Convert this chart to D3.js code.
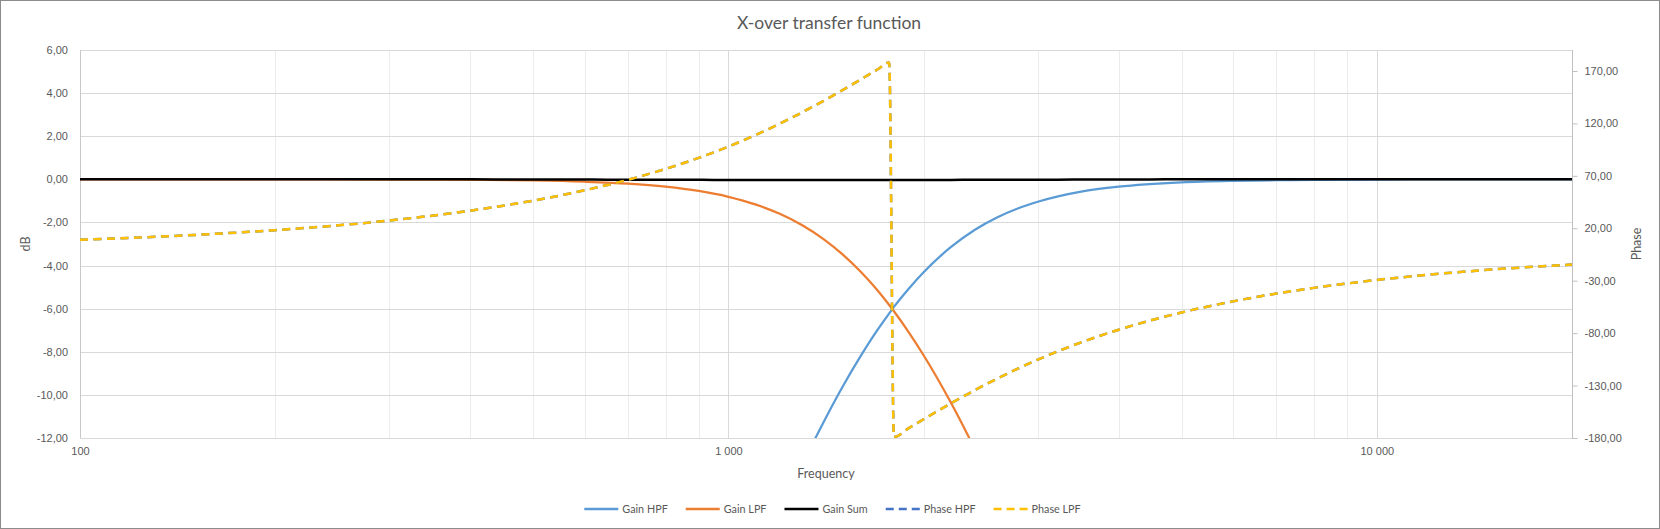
<!DOCTYPE html>
<html>
<head>
<meta charset="utf-8">
<script src="https://cdn.jsdelivr.net/npm/d3@7"></script>
<style>
  body { margin: 0; background: #fff; }
  svg { display: block; font-family: Lato, "Open Sans", sans-serif; }
</style>
</head>
<body>
<svg width="1660" height="529"></svg>
<script>
// values
const freq = [100, 150, 200, 300, 400, 500, 600, 700, 800, 900, 1000, 1100, 1200, 1300, 1400,
  1500, 1600, 1700, 1770, 1800, 1900, 2000, 2200, 2400, 2600, 2800, 3000, 3500, 4000, 5000,
  6000, 7000, 8000, 10000, 12000, 15000, 20000];

const gainHPF = [-100.23, -86.14, -76.15, -62.06, -52.08, -44.36, -38.09, -32.82, -28.32, -24.43,
  -21.04, -18.07, -15.49, -13.24, -11.30, -9.62, -8.19, -6.96, -6.22, -5.92, -5.05, -4.31, -3.16,
  -2.34, -1.76, -1.34, -1.04, -0.57, -0.34, -0.14, -0.07, -0.04, -0.02, -0.01, 0.00, 0.00, 0.00];

const gainLPF = [0.00, 0.00, 0.00, -0.01, -0.02, -0.05, -0.11, -0.20, -0.34, -0.54, -0.81, -1.16,
  -1.60, -2.13, -2.76, -3.48, -4.29, -5.17, -5.83, -6.12, -7.12, -8.16, -10.32, -12.53, -14.73,
  -16.89, -18.98, -23.87, -28.28, -35.83, -42.09, -47.42, -52.04, -59.78, -66.11, -73.86, -83.85];

const gainSum = [0, 0, 0, 0, 0, -0.01, -0.01, -0.02, -0.02, -0.02, -0.03, -0.03, -0.03, -0.03,
  -0.03, -0.03, -0.03, -0.03, -0.03, -0.03, -0.03, -0.03, -0.03, -0.02, -0.02, -0.02, -0.02,
  -0.01, -0.01, 0, 0, 0, 0, 0, 0, 0, 0];

const phaseLPF = [9.06, 13.61, 18.18, 27.41, 36.79, 46.38, 56.21, 66.28, 76.60, 87.16, 97.90,
  108.78, 119.72, 130.58, 141.31, 151.79, 161.93, 171.65, 178.18, -179.10, -170.35, -162.13,
  -147.26, -134.37, -123.24, -113.62, -105.30, -88.81, -76.72, -60.28, -49.70, -42.29, -36.84,
  -29.31, -24.35, -19.43, -14.54];

// Phase HPF lies exactly under Phase LPF in the picture
const phaseHPF = [9.06, 13.61, 18.18, 27.41, 36.79, 46.38, 56.21, 66.28, 76.60, 87.16, 97.90,
  108.78, 119.72, 130.58, 141.31, 151.79, 161.93, 171.65, 178.18, -179.10, -170.35, -162.13,
  -147.26, -134.37, -123.24, -113.62, -105.30, -88.81, -76.72, -60.28, -49.70, -42.29, -36.84,
  -29.31, -24.35, -19.43, -14.54];

const seriesNames = ['Gain HPF', 'Gain LPF', 'Gain Sum', 'Phase HPF', 'Phase LPF'];
const dbTicks = [-12, -10, -8, -6, -4, -2, 0, 2, 4, 6];
const phaseTicks = [-180, -130, -80, -30, 20, 70, 120, 170];
const freqTicks = [100, 1000, 10000];
const freqMinor = [200, 300, 400, 500, 600, 700, 800, 900, 2000, 3000, 4000, 5000, 6000, 7000, 8000, 9000];

const width = 1660;
const height = 529;
const plot = { x0: 80, x1: 1572, y0: 50, y1: 438 };
const textColor = '#595959';

const locale = d3.formatLocale({ decimal: ',', thousands: ' ', grouping: [3], currency: ['', ''], minus: '-' });
const fmt2 = locale.format('.2f');
const fmtInt = locale.format(',d');

const svg = d3.select('svg');

const x = d3.scaleLog().domain([100, 20000]).range([plot.x0, plot.x1]);
const yLeft = d3.scaleLinear().domain([-12, 6]).range([plot.y1, plot.y0]);
const yRight = d3.scaleLinear().domain([-180, 190]).range([plot.y1, plot.y0]);

// chart frame
svg.append('rect')
  .attr('x', 0.5).attr('y', 0.5)
  .attr('width', width - 1).attr('height', height - 1)
  .attr('fill', '#fff').attr('stroke', '#8c8c8c');

// gridlines
const grid = svg.append('g').attr('shape-rendering', 'crispEdges');
grid.selectAll('.minor').data(freqMinor).join('line')
  .attr('x1', d => Math.round(x(d)) + 0.5).attr('x2', d => Math.round(x(d)) + 0.5)
  .attr('y1', plot.y0).attr('y2', plot.y1)
  .attr('stroke', '#ececec');
grid.selectAll('.major').data(freqTicks.slice(1)).join('line')
  .attr('x1', d => Math.round(x(d)) + 0.5).attr('x2', d => Math.round(x(d)) + 0.5)
  .attr('y1', plot.y0).attr('y2', plot.y1)
  .attr('stroke', '#d9d9d9');
grid.selectAll('.hgrid').data(dbTicks).join('line')
  .attr('x1', plot.x0).attr('x2', plot.x1)
  .attr('y1', d => Math.round(yLeft(d)) + 0.5).attr('y2', d => Math.round(yLeft(d)) + 0.5)
  .attr('stroke', '#d9d9d9');

// axis lines
grid.append('line')
  .attr('x1', plot.x0 + 0.5).attr('x2', plot.x0 + 0.5)
  .attr('y1', plot.y0).attr('y2', plot.y1)
  .attr('stroke', '#c8c8c8');
grid.append('line')
  .attr('x1', plot.x1 + 0.5).attr('x2', plot.x1 + 0.5)
  .attr('y1', plot.y0).attr('y2', plot.y1 + 0.5)
  .attr('stroke', '#bfbfbf');

// axes
const styleAxis = (g, size) => {
  g.select('.domain').remove();
  g.selectAll('text').attr('fill', textColor).attr('font-size', size);
  g.selectAll('line').attr('stroke', '#bfbfbf');
};

svg.append('g')
  .attr('transform', `translate(${plot.x0},0)`)
  .call(d3.axisLeft(yLeft).tickValues(dbTicks).tickSize(0).tickPadding(12).tickFormat(fmt2))
  .call(g => styleAxis(g, 11));

svg.append('g')
  .attr('transform', `translate(${plot.x1 + 0.5},0)`)
  .call(d3.axisRight(yRight).tickValues(phaseTicks).tickSize(5).tickPadding(7).tickFormat(fmt2))
  .call(g => styleAxis(g, 11));

svg.append('g')
  .attr('transform', `translate(0,${plot.y1})`)
  .call(d3.axisBottom(x).tickValues(freqTicks).tickSize(0).tickPadding(9).tickFormat(fmtInt))
  .call(g => styleAxis(g, 11));

// titles
svg.append('text')
  .attr('x', 829).attr('y', 23).attr('dy', '0.35em')
  .attr('text-anchor', 'middle').attr('fill', textColor).attr('font-size', 17.5)
  .text('X-over transfer function');

svg.append('text')
  .attr('x', (plot.x0 + plot.x1) / 2).attr('y', 474).attr('dy', '0.35em')
  .attr('text-anchor', 'middle').attr('fill', textColor).attr('font-size', 12.5)
  .text('Frequency');

svg.append('text')
  .attr('transform', 'translate(26,244) rotate(-90)').attr('dy', '0.35em')
  .attr('text-anchor', 'middle').attr('fill', textColor).attr('font-size', 12.5)
  .text('dB');

svg.append('text')
  .attr('transform', 'translate(1637,244) rotate(-90)').attr('dy', '0.35em')
  .attr('text-anchor', 'middle').attr('fill', textColor).attr('font-size', 12.5)
  .text('Phase');

// series
const series = [
  { name: seriesNames[0], values: gainHPF, y: yLeft, color: '#5b9bd5', dash: null, lw: 2.25 },
  { name: seriesNames[1], values: gainLPF, y: yLeft, color: '#ed7d31', dash: null, lw: 2.25 },
  { name: seriesNames[2], values: gainSum, y: yLeft, color: '#000000', dash: null, lw: 2.5 },
  { name: seriesNames[3], values: phaseHPF, y: yRight, color: '#4472c4', dash: '8,5.5', lw: 2.5 },
  { name: seriesNames[4], values: phaseLPF, y: yRight, color: '#ffc000', dash: '8,5.5', lw: 2.5 }
];

svg.append('clipPath').attr('id', 'plot-clip')
  .append('rect')
  .attr('x', plot.x0).attr('y', plot.y0)
  .attr('width', plot.x1 - plot.x0).attr('height', plot.y1 - plot.y0);

const lines = svg.append('g').attr('clip-path', 'url(#plot-clip)');

series.forEach((s) => {
  const line = d3.line()
    .x((d, i) => x(freq[i]))
    .y(d => s.y(d))
    .curve(d3.curveMonotoneX);
  lines.append('path')
    .datum(s.values)
    .attr('d', line)
    .attr('fill', 'none')
    .attr('stroke', s.color)
    .attr('stroke-width', s.lw)
    .attr('stroke-dasharray', s.dash)
    .attr('stroke-linejoin', 'round');
});

// legend
const legend = svg.append('g').attr('transform', 'translate(0,509)');
const items = legend.selectAll('g').data(series).join('g');
items.append('line')
  .attr('x1', 0).attr('x2', 34)
  .attr('stroke', d => d.color)
  .attr('stroke-width', 2.5)
  .attr('stroke-dasharray', d => (d.dash ? '8,5' : null));
items.append('text')
  .attr('x', 38).attr('dy', '0.35em')
  .attr('fill', textColor).attr('font-size', 10.8)
  .text(d => d.name);

let cursor = 0;
const offsets = [];
items.each(function () {
  offsets.push(cursor);
  cursor += 38 + d3.select(this).select('text').node().getComputedTextLength() + 18;
});
const legendWidth = cursor - 18;
const legendStart = 832.5 - legendWidth / 2;
items.attr('transform', (d, i) => `translate(${legendStart + offsets[i]},0)`);
</script>
</body>
</html>
